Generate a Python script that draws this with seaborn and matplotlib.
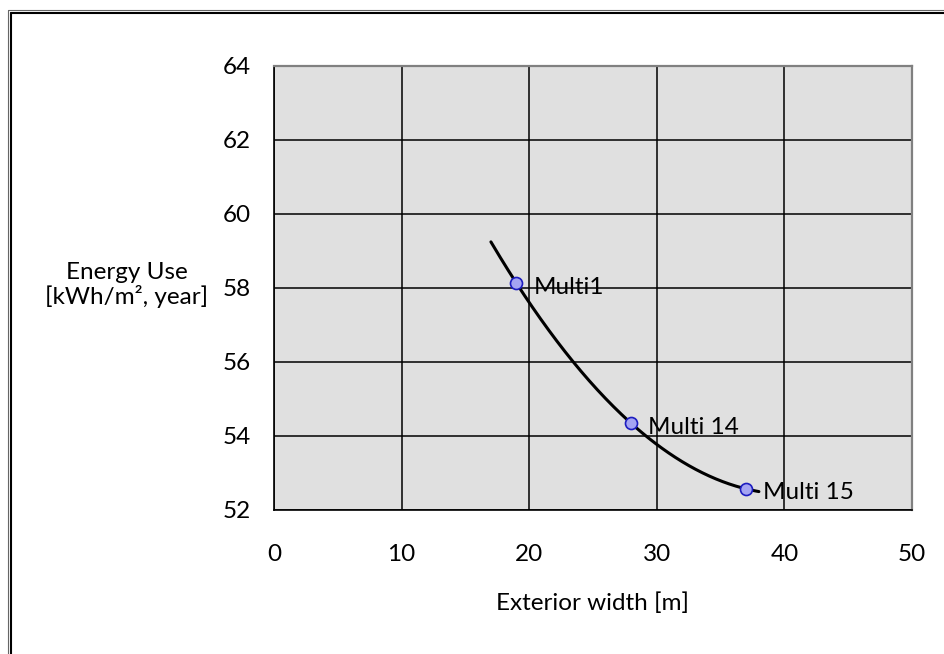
import numpy as np
import pandas as pd
import seaborn as sns
import matplotlib.pyplot as plt
from matplotlib.lines import Line2D

# Building variants: exterior width vs. specific energy use
names = ["Multi1", "Multi 14", "Multi 15"]
width_m = [19, 28, 37]
energy_use = [58.13, 54.34, 52.57]

# Range covered by the 2nd-order trendline (with forecast both ways)
trend_from, trend_to = 17, 38

x_ticks = [0, 10, 20, 30, 40, 50]
y_ticks = [52, 54, 56, 58, 60, 62, 64]

df = pd.DataFrame({"name": names, "width": width_m, "energy": energy_use})

# Quadratic trendline through the points
coef = np.polyfit(df["width"], df["energy"], 2)
tx = np.linspace(trend_from, trend_to, 200)
trend = pd.DataFrame({"width": tx, "energy": np.polyval(coef, tx)})

sns.set_theme(style="white")
plt.rcParams["font.family"] = ["Lato", "DejaVu Sans"]
FS = 17.5

W, H = 944, 654
fig = plt.figure(figsize=(W / 100, H / 100), dpi=100)
ax = fig.add_axes([274 / W, 1 - 510 / H, (912 - 274) / W, (510 - 66) / H])
ax.set_facecolor("#e0e0e0")

sns.lineplot(data=trend, x="width", y="energy", ax=ax, color="black",
             linewidth=2.2, zorder=3)
sns.scatterplot(data=df, x="width", y="energy", ax=ax, s=75,
                color="#a4a4f2", edgecolor="#1c1cc0", linewidth=1.2,
                zorder=4)

for _, r in df.iterrows():
    ax.annotate(r["name"], (r["width"], r["energy"]),
                xytext=(17, -4), textcoords="offset pixels",
                ha="left", va="center", fontsize=FS, color="black",
                zorder=5)

ax.set_xlim(0, 50)
ax.set_ylim(52, 64)
ax.set_xticks(x_ticks)
ax.set_yticks(y_ticks)
ax.grid(True, color="black", linewidth=1.1)
ax.set_axisbelow(True)

ax.tick_params(axis="both", direction="out", length=6.5, width=1.1,
               color="black", labelsize=FS, labelcolor="black")
ax.tick_params(axis="y", pad=10)
ax.tick_params(axis="x", pad=18)

for side in ("left", "bottom"):
    ax.spines[side].set_color("black")
    ax.spines[side].set_linewidth(1.2)
for side in ("top", "right"):
    ax.spines[side].set_color("#808080")
    ax.spines[side].set_linewidth(1.6)

ax.set_xlabel("Exterior width [m]", fontsize=FS, color="black", labelpad=20)
ax.set_ylabel("Energy Use\n[kWh/m², year]", fontsize=FS, color="black",
              rotation=0, ha="center", va="center", linespacing=1.1)
ax.yaxis.set_label_coords((127 - 274) / (912 - 274), 0.507)

# Double frame around the chart area (runs off the right and bottom edges)
def frame(px, py, color, lw):
    x0, y0 = px / W, 1 - py / H
    fig.add_artist(Line2D([x0, 1.05], [y0, y0], transform=fig.transFigure,
                          color=color, linewidth=lw))
    fig.add_artist(Line2D([x0, x0], [y0, -0.05], transform=fig.transFigure,
                          color=color, linewidth=lw))

frame(8.0, 9.5, "#666666", 0.8)
frame(11.2, 12.8, "black", 1.5)

fig.savefig("out.png", dpi=100)
